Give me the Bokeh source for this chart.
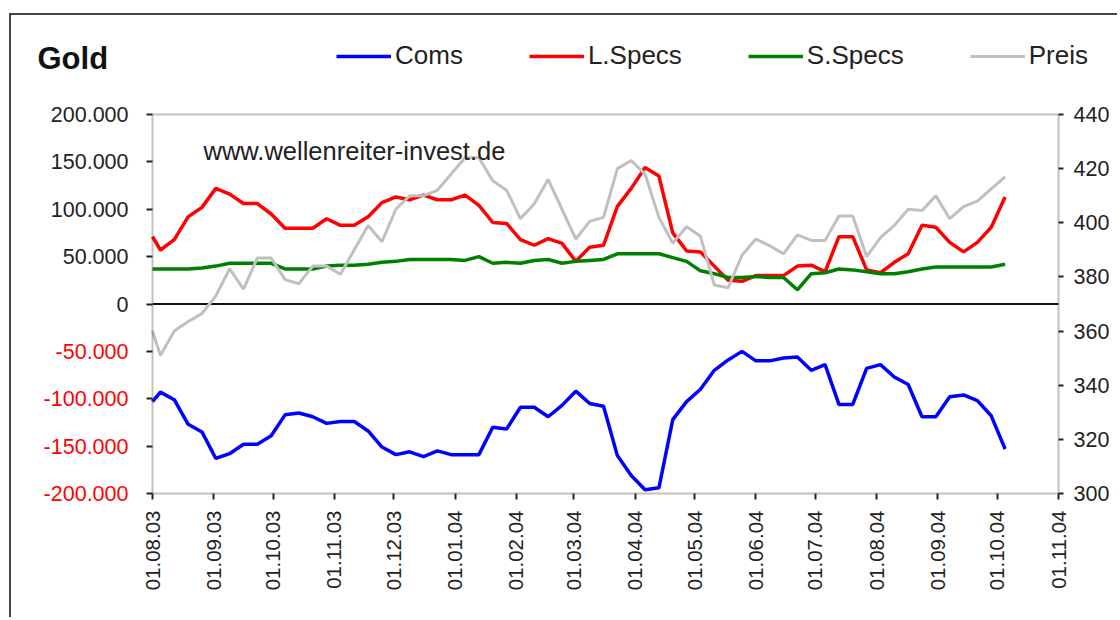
import math
import pandas as pd
from bokeh.plotting import figure
from bokeh.models import (Range1d, LinearAxis, FixedTicker, Legend, LegendItem, Label,
                          BoxAnnotation)
from bokeh.embed import file_html
from bokeh.resources import INLINE

# ---------------- data (weekly COT, thousands of contracts; price in USD) ----------------
dates = [pd.Timestamp("2003-08-01")] + list(pd.date_range("2003-08-05", periods=62, freq="7D"))

coms = [-103, -93, -101, -127, -135, -163, -158, -148, -148, -139,
        -117, -115, -119, -126, -124, -124, -134, -151, -159, -156,
        -161, -155, -159, -159, -159, -130, -132, -109, -109, -119,
        -107, -92, -105, -108, -160, -181, -196, -194, -122, -103,
        -90, -70, -59, -50, -60, -60, -57, -56, -70, -64,
        -106, -106, -68, -64, -77, -85, -119, -119, -98, -96,
        -102, -118, -153]

l_specs = [71, 57, 68, 92, 102, 122, 116, 106, 106, 95,
           80, 80, 80, 90, 83, 83, 92, 107, 113, 110,
           115, 110, 110, 115, 104, 86, 85, 68, 62, 69,
           64, 45, 60, 62, 103, 122, 144, 135, 75, 56,
           55, 40, 25, 24, 30, 30, 30, 40, 41, 34,
           71, 71, 36, 33, 44, 53, 83, 81, 65, 55,
           65, 81, 113]

s_specs = [37, 37, 37, 37, 38, 40, 43, 43, 43, 43,
           37, 37, 37, 40, 41, 41, 42, 44, 45, 47,
           47, 47, 47, 46, 50, 43, 44, 43, 46, 47,
           43, 45, 46, 47, 53, 53, 53, 53, 49, 45,
           35, 32, 28, 28, 29, 28, 28, 15, 32, 33,
           37, 36, 34, 32, 32, 34, 37, 39, 39, 39,
           39, 39, 42]

preis = [360, 351, 360, 363.5, 366.5, 373, 383, 375.5, 387, 387,
         379, 377.5, 384, 384, 381, 390, 399, 393, 405, 410,
         410, 412, 418, 424, 424, 415.5, 412, 401.5, 407, 416,
         405, 394, 400.5, 402, 420, 423, 418, 402, 392.5, 398.5,
         395, 377, 376, 388, 394, 391.5, 388.5, 395.5, 393.5, 393.5,
         402.5, 402.5, 387.5, 394.5, 399, 405, 404.5, 410, 401.5, 406,
         408, 412.5, 417]

month_ticks = ["2003-08-01", "2003-09-01", "2003-10-01", "2003-11-01", "2003-12-01",
               "2004-01-01", "2004-02-01", "2004-03-01", "2004-04-01", "2004-05-01",
               "2004-06-01", "2004-07-01", "2004-08-01", "2004-09-01", "2004-10-01",
               "2004-11-01"]
month_labels = ["01.08.03", "01.09.03", "01.10.03", "01.11.03", "01.12.03",
                "01.01.04", "01.02.04", "01.03.04", "01.04.04", "01.05.04",
                "01.06.04", "01.07.04", "01.08.04", "01.09.04", "01.10.04",
                "01.11.04"]

left_ticks = [-200000, -150000, -100000, -50000, 0, 50000, 100000, 150000, 200000]
left_labels = ["-200.000", "-150.000", "-100.000", "-50.000", "0",
               "50.000", "100.000", "150.000", "200.000"]
right_ticks = [300, 320, 340, 360, 380, 400, 420, 440]

series_names = ["Coms", "L.Specs", "S.Specs", "Preis"]
series_colors = ["#0000FF", "#FF0000", "#008000", "#C0C0C0"]

FONT = "Liberation Sans"
INK = "#222222"

# ---------------- layout (canvas pixels) ----------------
W, H = 1108, 604                 # canvas size
PL, PR, PT, PB = 141, 1047, 99, 478   # plot-area edges inside the canvas


def ms(s):
    return pd.Timestamp(s).timestamp() * 1000.0


x_start, x_end = ms("2003-08-01"), ms("2004-11-01")
y_lo, y_hi = -200000, 200000
p_lo, p_hi = 300, 440

mpp = (x_end - x_start) / (PR - PL)
vpp = (y_hi - y_lo) / (PB - PT)
ppp = (p_hi - p_lo) / (PB - PT)

p = figure(width=W, height=H,
           x_range=Range1d(x_start - PL * mpp, x_end + (W - PR) * mpp),
           y_range=Range1d(y_lo - (H - PB) * vpp, y_hi + PT * vpp),
           x_axis_location=None, y_axis_location=None,
           output_backend="svg", toolbar_location=None, min_border=0)
p.styles = {"border-left": "2px solid #444444", "border-top": "2px solid #444444",
            "margin-left": "9px", "margin-top": "13px"}
p.extra_y_ranges = {"preis": Range1d(p_lo - (H - PB) * ppp, p_hi + PT * ppp)}
p.grid.visible = False
p.outline_line_color = None
p.background_fill_color = "white"
p.border_fill_color = "white"


def style_axis(ax, size, tick_out, standoff, color=INK, ticks=True):
    ax.major_label_text_font = FONT
    ax.major_label_text_font_size = size
    ax.major_label_text_color = color
    ax.axis_line_color = None
    ax.major_tick_line_color = INK if ticks else None
    ax.major_tick_line_width = 2
    ax.major_tick_out = tick_out
    ax.major_tick_in = 0
    ax.minor_tick_line_color = None
    ax.major_label_standoff = standoff


# left axis: ticks + black labels (positive values and 0)
ya = LinearAxis(fixed_location=x_start, ticker=FixedTicker(ticks=left_ticks))
ya.major_label_overrides = {t: (l if t >= 0 else "") for t, l in zip(left_ticks, left_labels)}
style_axis(ya, "21.5px", 6, 18)
p.add_layout(ya, "left")

# left axis: red labels for negative values
neg_ticks = [t for t in left_ticks if t < 0]
yb = LinearAxis(fixed_location=x_start, ticker=FixedTicker(ticks=neg_ticks))
yb.major_label_overrides = {t: l for t, l in zip(left_ticks, left_labels) if t < 0}
style_axis(yb, "21.5px", 6, 18, color="#FF0000", ticks=False)
p.add_layout(yb, "left")

# right axis (price)
yr = LinearAxis(fixed_location=x_end, y_range_name="preis", ticker=FixedTicker(ticks=right_ticks))
style_axis(yr, "21.5px", 5, 10)
p.add_layout(yr, "right")

# bottom axis (dates)
tick_ms = [ms(d) for d in month_ticks]
xa = LinearAxis(fixed_location=y_lo, ticker=FixedTicker(ticks=tick_ms))
xa.major_label_overrides = {t: l for t, l in zip(tick_ms, month_labels)}
xa.major_label_orientation = math.pi / 2
style_axis(xa, "20.5px", 6, 11)
p.add_layout(xa, "below")

# plot-area box and zero line
p.add_layout(BoxAnnotation(left=x_start, right=x_end, bottom=y_lo, top=y_hi,
                           fill_alpha=0, line_color="#333333", line_width=2))
p.segment(x0=[x_start], y0=[0], x1=[x_end], y1=[0], line_color="#111111", line_width=2)

# series
r_coms = p.line(dates, [v * 1000 for v in coms], line_color=series_colors[0], line_width=3.5)
r_l = p.line(dates, [v * 1000 for v in l_specs], line_color=series_colors[1], line_width=3.5)
r_s = p.line(dates, [v * 1000 for v in s_specs], line_color=series_colors[2], line_width=3.5)
r_p = p.line(dates, preis, y_range_name="preis", line_color=series_colors[3], line_width=3)

legend = Legend(items=[LegendItem(label=n, renderers=[r]) for n, r in
                       zip(series_names, [r_coms, r_l, r_s, r_p])],
                orientation="horizontal", location=(325, H - 43 - 13),
                glyph_width=55, glyph_height=26, label_height=26,
                label_standoff=4, spacing=66, padding=0, margin=0,
                border_line_color=None, background_fill_alpha=0,
                label_text_font=FONT, label_text_font_size="26px",
                label_text_color=INK)
p.add_layout(legend)

p.add_layout(Label(x=26, y=H - 43, x_units="screen", y_units="screen", text="Gold",
                   text_font=FONT, text_font_size="31px", text_font_style="bold",
                   text_baseline="middle", text_align="left", text_color="#111111"))

p.add_layout(Label(x=ms("2003-08-26 19:00"), y=161000, text="www.wellenreiter-invest.de",
                   text_font=FONT, text_font_size="25.5px", text_baseline="middle",
                   text_align="left", text_color=INK))

open("out.html", "w").write(file_html(p, INLINE))
